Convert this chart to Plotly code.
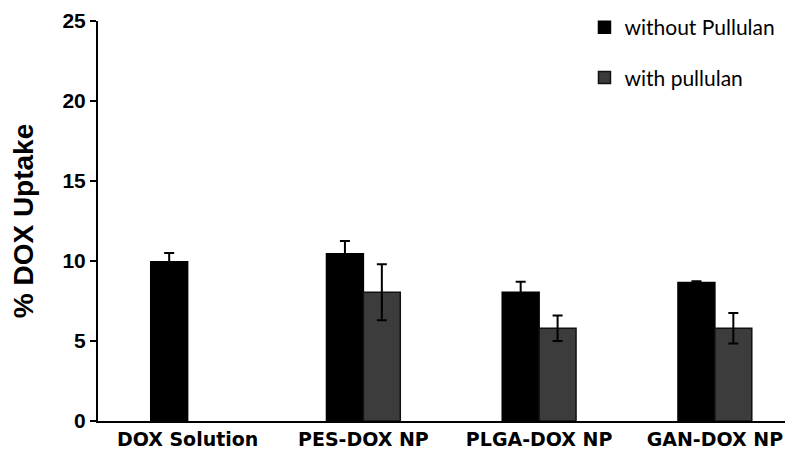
import plotly.graph_objects as go

categories = ["DOX Solution", "PES-DOX NP", "PLGA-DOX NP", "GAN-DOX NP"]
without_pullulan = [9.95, 10.45, 8.05, 8.65]
without_err = [0.55, 0.8, 0.65, 0.08]
with_pullulan = [None, 8.05, 5.8, 5.8]
with_err = [None, 1.75, 0.8, 0.95]
y_ticks = [0, 5, 10, 15, 20, 25]

fig = go.Figure()
fig.add_trace(go.Bar(
    x=categories, y=without_pullulan, name="without Pullulan",
    marker=dict(color="#000000", line=dict(color="#000000", width=1.5)),
    error_y=dict(type="data", array=without_err, color="#000000", thickness=2, width=5),
    legendgroup="a",
))
fig.add_trace(go.Bar(
    x=categories, y=with_pullulan, name="with pullulan",
    marker=dict(color="#3c3c3c", line=dict(color="#111111", width=1.5)),
    error_y=dict(type="data", array=with_err, color="#000000", thickness=2, width=5),
    legendgroup="b",
))

fig.update_layout(
    width=793, height=450,
    margin=dict(l=90, r=0, t=13, b=37, autoexpand=False),
    paper_bgcolor="white", plot_bgcolor="white",
    barmode="group", bargap=0.58, bargroupgap=0,
    showlegend=True,
    legend=dict(
        x=0.692, y=1.035, xanchor="left", yanchor="top",
        font=dict(family="Lato, Open Sans, sans-serif", size=21, color="#000000"),
        tracegroupgap=20, bgcolor="rgba(0,0,0,0)",
    ),
    xaxis=dict(
        range=[-0.51, 3.49], showline=True, linecolor="#000000", linewidth=2,
        ticks="", showgrid=False,
        tickfont=dict(family="DejaVu Sans, sans-serif", size=19, color="#000000", weight="bold"),
    ),
    yaxis=dict(
        range=[0, 25], tickvals=y_ticks, showline=True, linecolor="#000000", linewidth=2,
        ticks="outside", ticklen=6, tickwidth=2, tickcolor="#000000", showgrid=False, zeroline=False,
        tickfont=dict(family="Liberation Sans, Arial, sans-serif",
                      size=21, color="#000000", weight="bold"),
        title=dict(text="% DOX Uptake", standoff=26,
                   font=dict(family="Liberation Sans, Arial, sans-serif", size=28,
                             color="#000000", weight="bold")),
    ),
)

fig.write_html("out.html")
